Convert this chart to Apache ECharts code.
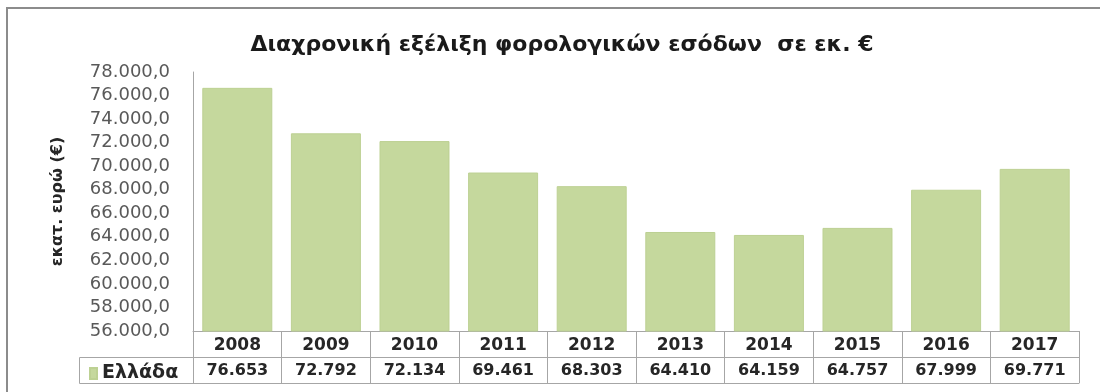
<!DOCTYPE html>
<html>
<head>
<meta charset="utf-8">
<script src="https://cdn.jsdelivr.net/npm/echarts@6/dist/echarts.min.js"></script>
<style>
  html, body { margin: 0; padding: 0; background: #fff; }
  #chart { width: 1100px; height: 392px; }
</style>
</head>
<body>
<div id="chart"></div>
<script>
// Tax revenue by year, million euro
const years = ['2008', '2009', '2010', '2011', '2012', '2013', '2014', '2015', '2016', '2017'];
const revenue = [76653, 72792, 72134, 69461, 68303, 64410, 64159, 64757, 67999, 69771];
const seriesName = 'Ελλάδα';
const yMin = 56000, yMax = 78000, yStep = 2000;

// Greek number formatting: dot for thousands, comma for decimals
function groupThousands(n) {
  return String(Math.trunc(n)).replace(/\B(?=(\d{3})+(?!\d))/g, '.');
}
const tickLabel = v => groupThousands(v) + ',0';
const tableLabels = revenue.map(groupThousands);

const FONT = '"DejaVu Sans", Verdana, sans-serif';
const LINE = '#a6a6a6';
const BAR = '#c5d89d';

const chart = echarts.init(document.getElementById('chart'));

const gridLeft = 193, gridRight = 21, gridTop = 72, gridBottom = 61;
const rowH = 26;
const plotBottomY = 392 - gridBottom;

chart.setOption({
  animation: false,
  title: {
    text: 'Διαχρονική εξέλιξη φορολογικών εσόδων  σε εκ. €',
    left: 557,
    top: 29,
    textAlign: 'center',
    textStyle: { fontFamily: FONT, fontWeight: 'bold', fontSize: 22, color: '#1a1a1a' }
  },
  legend: {
    data: [seriesName],
    left: 84,
    top: plotBottomY + rowH + 2,
    icon: 'rect',
    itemWidth: 7,
    itemHeight: 11,
    itemGap: 6,
    selectedMode: false,
    textStyle: { fontFamily: FONT, fontWeight: 'bold', fontSize: 19, color: '#262626' }
  },
  grid: { left: gridLeft, right: gridRight, top: gridTop, bottom: gridBottom, containLabel: false },
  xAxis: [
    {
      // year row of the data table
      type: 'category',
      data: years,
      position: 'bottom',
      boundaryGap: true,
      axisLine: { show: true, lineStyle: { color: LINE, width: 1 } },
      axisTick: { show: true, interval: 0, length: rowH * 2, lineStyle: { color: LINE } },
      axisLabel: {
        interval: 0, margin: 6,
        fontFamily: FONT, fontWeight: 'bold', fontSize: 17, color: '#262626'
      },
      splitLine: { show: false }
    },
    {
      // value row of the data table
      type: 'category',
      data: tableLabels,
      position: 'bottom',
      offset: rowH,
      boundaryGap: true,
      axisLine: { show: true, lineStyle: { color: LINE, width: 1 } },
      axisTick: { show: false },
      axisLabel: {
        interval: 0, margin: 6,
        fontFamily: FONT, fontWeight: 'bold', fontSize: 16, color: '#262626'
      }
    },
    {
      // bottom edge of the data table
      type: 'category',
      data: years,
      position: 'bottom',
      offset: rowH * 2,
      axisLine: { show: true, lineStyle: { color: LINE, width: 1 } },
      axisTick: { show: false },
      axisLabel: { show: false }
    }
  ],
  yAxis: {
    type: 'value',
    min: yMin,
    max: yMax,
    interval: yStep,
    name: 'εκατ. ευρώ (€)',
    nameLocation: 'middle',
    nameRotate: 90,
    nameGap: 127,
    nameTextStyle: { fontFamily: FONT, fontWeight: 'bold', fontSize: 16, color: '#262626' },
    axisLine: { show: true, lineStyle: { color: LINE, width: 1 } },
    axisTick: { show: false },
    splitLine: { show: false },
    axisLabel: {
      margin: 23,
      formatter: tickLabel,
      fontFamily: FONT, fontSize: 18, color: '#595959'
    }
  },
  series: [{
    name: seriesName,
    type: 'bar',
    xAxisIndex: 0,
    data: revenue,
    barCategoryGap: '21%',
    itemStyle: { color: BAR, borderColor: '#bdd193', borderWidth: 1 }
  }],
  graphic: [
    // outer frame (top and left edges)
    {
      type: 'polyline', silent: true,
      shape: { points: [[7, 392], [7, 8], [1100, 8]] },
      style: { stroke: '#8c8c8c', lineWidth: 2, fill: null }
    },
    // vertical divider through the table on the axis line
    {
      type: 'line', silent: true,
      shape: { x1: gridLeft + 0.5, y1: plotBottomY, x2: gridLeft + 0.5, y2: plotBottomY + rowH * 2 },
      style: { stroke: LINE, lineWidth: 1 }
    },
    // row header cell for the series name
    {
      type: 'polyline', silent: true,
      shape: { points: [[gridLeft, plotBottomY + rowH + 0.5], [79.5, plotBottomY + rowH + 0.5], [79.5, plotBottomY + rowH * 2 + 0.5], [gridLeft, plotBottomY + rowH * 2 + 0.5]] },
      style: { stroke: LINE, lineWidth: 1, fill: null }
    }
  ]
});
</script>
</body>
</html>
